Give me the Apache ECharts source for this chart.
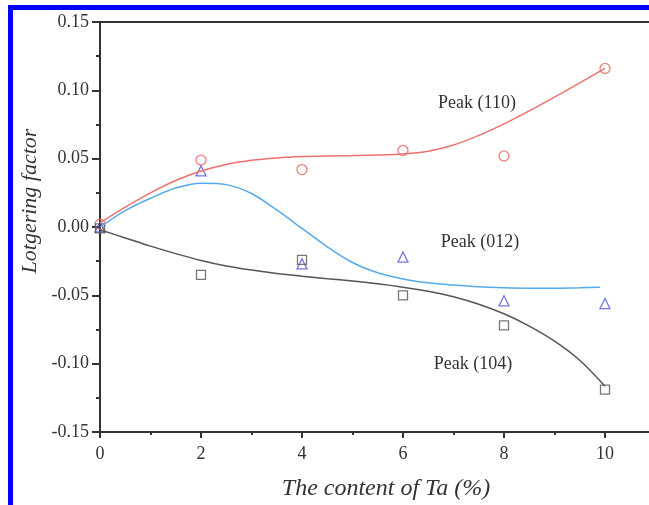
<!DOCTYPE html>
<html>
<head>
<meta charset="utf-8">
<script src="https://cdn.jsdelivr.net/npm/echarts@6/dist/echarts.min.js"></script>
<style>
  html, body { margin: 0; padding: 0; background: #fff; }
  #chart { width: 649px; height: 505px; }
</style>
</head>
<body>
<div id="chart"></div>
<script>
// measured points
const taContent = [0, 2, 4, 6, 8, 10]
const peak110 = [0.002, 0.049, 0.042, 0.056, 0.052, 0.116]
const peak012 = [0.000, 0.041, -0.027, -0.022, -0.054, -0.056]
const peak104 = [-0.001, -0.035, -0.024, -0.050, -0.072, -0.119]

// fitted curves
const fitX = [0, 0.5, 1, 1.5, 2, 2.5, 3, 3.5, 4, 4.5, 5, 5.5, 6, 6.5, 7, 7.5, 8, 8.5, 9, 9.5, 10]
const fit012X = [0, 0.5, 1, 1.5, 2, 2.5, 3, 3.5, 4, 4.5, 5, 5.5, 6, 6.5, 7, 7.5, 8, 8.5, 9, 9.5, 9.9]
const fit110 = [0.003, 0.0145, 0.025, 0.034, 0.041, 0.0458, 0.0488, 0.0505, 0.0515, 0.052, 0.0523, 0.0527, 0.0535, 0.0555, 0.060, 0.067, 0.0755, 0.085, 0.095, 0.1055, 0.116]
const fit012 = [0.000, 0.012, 0.021, 0.0285, 0.032, 0.031, 0.0245, 0.0125, -0.001, -0.0145, -0.026, -0.0335, -0.038, -0.0408, -0.0425, -0.0438, -0.0445, -0.0448, -0.0448, -0.0445, -0.044]
const fit104 = [-0.002, -0.008, -0.014, -0.0195, -0.0245, -0.0285, -0.0315, -0.034, -0.036, -0.0378, -0.0395, -0.0415, -0.044, -0.047, -0.051, -0.0565, -0.0635, -0.0725, -0.0835, -0.0975, -0.1165]

const yTicks = ['0.15', '0.10', '0.05', '0.00', '-0.05', '-0.10', '-0.15']

const pairs = (xs, ys) => xs.map((x, i) => [x, ys[i]])
const serif = 'Liberation Serif'

const chart = echarts.init(document.getElementById('chart'))
const option = {
  backgroundColor: '#fff',
  animation: false,
  grid: { left: 100, top: 22, width: 606, height: 410, outerBoundsMode: 'none' },
  xAxis: [
    {
      type: 'value',
      min: 0,
      max: 12,
      interval: 2,
      splitLine: { show: false },
      axisLine: { onZero: false, lineStyle: { color: '#333', width: 2 } },
      axisTick: { length: 6, lineStyle: { color: '#333', width: 2 } },
      minorTick: { show: true, splitNumber: 2, length: 3, lineStyle: { color: '#333', width: 2 } },
      axisLabel: { fontFamily: serif, fontSize: 18, color: '#333', margin: 13,
        formatter: v => (v <= 10 ? String(v) : '') }
    },
    {
      type: 'value', position: 'top', min: 0, max: 12,
      axisLine: { onZero: false, lineStyle: { color: '#333', width: 2 } },
      axisTick: { show: false }, axisLabel: { show: false }, splitLine: { show: false }
    }
  ],
  yAxis: {
    type: 'value',
    min: -0.15,
    max: 0.15,
    interval: 0.05,
    splitLine: { show: false },
    axisLine: { show: true, onZero: false, lineStyle: { color: '#333', width: 2 } },
    axisTick: { show: true, length: 8, lineStyle: { color: '#333', width: 2 } },
    minorTick: { show: true, splitNumber: 2, length: 4, lineStyle: { color: '#333', width: 2 } },
    axisLabel: { fontFamily: serif, fontSize: 18, color: '#333', margin: 11,
      formatter: v => yTicks.find(t => Math.abs(parseFloat(t) - v) < 1e-6) || '' }
  },
  graphic: [
    { type: 'rect', shape: { x: 8, y: 5, width: 641, height: 5 }, style: { fill: '#0000ff' } },
    { type: 'rect', shape: { x: 8, y: 5, width: 5, height: 500 }, style: { fill: '#0000ff' } },
    { type: 'text', x: 30, y: 201, rotation: Math.PI / 2,
      style: { text: 'Lotgering factor', font: 'italic 22px "Liberation Serif"', fill: '#333', align: 'center', verticalAlign: 'middle' } },
    { type: 'text', x: 386, y: 489,
      style: { text: 'The content of Ta (%)', font: 'italic 24px "Liberation Serif"', fill: '#333', align: 'center', verticalAlign: 'middle' } },
    { type: 'text', x: 477, y: 103,
      style: { text: 'Peak (110)', font: '18px "Liberation Serif"', fill: '#333', align: 'center', verticalAlign: 'middle' } },
    { type: 'text', x: 480, y: 242,
      style: { text: 'Peak (012)', font: '18px "Liberation Serif"', fill: '#333', align: 'center', verticalAlign: 'middle' } },
    { type: 'text', x: 473, y: 364,
      style: { text: 'Peak (104)', font: '18px "Liberation Serif"', fill: '#333', align: 'center', verticalAlign: 'middle' } }
  ],
  series: [
    { name: 'fit110', type: 'line', smooth: 0.3, symbol: 'none', data: pairs(fitX, fit110),
      lineStyle: { color: '#f07070', width: 1.5 } },
    { name: 'fit012', type: 'line', smooth: 0.3, symbol: 'none', data: pairs(fit012X, fit012),
      lineStyle: { color: '#55aaee', width: 1.5 } },
    { name: 'fit104', type: 'line', smooth: 0.3, symbol: 'none', data: pairs(fitX, fit104),
      lineStyle: { color: '#555', width: 1.5 } },
    { name: 'Peak (110)', type: 'scatter', symbol: 'circle', symbolSize: 10, data: pairs(taContent, peak110),
      itemStyle: { color: 'rgba(0,0,0,0)', borderColor: '#e8605a', borderWidth: 1.3 } },
    { name: 'Peak (012)', type: 'scatter', symbol: 'triangle', symbolSize: 10, data: pairs(taContent, peak012),
      itemStyle: { color: 'rgba(0,0,0,0)', borderColor: '#5050e0', borderWidth: 1.3 } },
    { name: 'Peak (104)', type: 'scatter', symbol: 'rect', symbolSize: 9, data: pairs(taContent, peak104),
      itemStyle: { color: 'rgba(0,0,0,0)', borderColor: '#555', borderWidth: 1.3 } }
  ]
}
chart.setOption(option)
</script>
</body>
</html>
